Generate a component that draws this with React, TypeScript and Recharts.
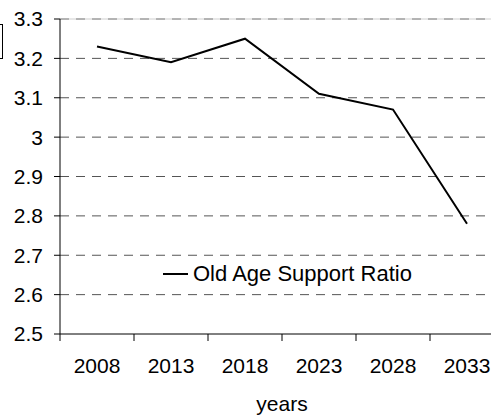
import React from 'react';
import { LineChart, Line, XAxis, YAxis, ReferenceLine, Legend } from 'recharts';

// Old age support ratio, five-year steps
const years = ['2008', '2013', '2018', '2023', '2028', '2033'];
const supportRatio = [3.23, 3.19, 3.25, 3.11, 3.07, 2.78];
const yTicks = [2.5, 2.6, 2.7, 2.8, 2.9, 3, 3.1, 3.2, 3.3];
const gridLevels = [2.6, 2.7, 2.8, 2.9, 3, 3.1, 3.2];
const topLevel = 3.3;

const data = years.map((year, i) => ({ year, ratio: supportRatio[i] }));

const FONT = '"Liberation Sans", Arial, Helvetica, sans-serif';
const FONT_SIZE = 21;
const LEGEND_FONT_SIZE = 22;
const CHART_W = 520;
const CHART_H = 415;
const MARGIN = { top: 19, right: 16, bottom: 0, left: 0 };
const Y_AXIS_W = 60;
const X_AXIS_H = 81;
const X_TICK_SIZE = 7;
const X_TICK_MARGIN = 2;
const BAND = (CHART_W - MARGIN.left - MARGIN.right - Y_AXIS_W) / years.length;

// category label centred in its band, tick marks on the band edges
function YearTick(props: any) {
  const { x, y, payload, index } = props;
  const axisY = y - X_TICK_SIZE - X_TICK_MARGIN;
  const left = x - BAND / 2;
  const right = x + BAND / 2;
  return (
    <g>
      <line x1={left} y1={axisY} x2={left} y2={axisY + X_TICK_SIZE} stroke="#000" />
      {index === years.length - 1 && (
        <line x1={right} y1={axisY} x2={right} y2={axisY + X_TICK_SIZE} stroke="#000" />
      )}
      <text x={x} y={axisY + 32} dy="0.355em" textAnchor="middle" fontSize={FONT_SIZE} fill="#000">
        {payload.value}
      </text>
    </g>
  );
}

function SeriesLegend() {
  return (
    <div style={{ display: 'flex', alignItems: 'center', fontSize: LEGEND_FONT_SIZE, color: '#000', whiteSpace: 'nowrap' }}>
      <svg width={30} height={4}>
        <line x1={0} y1={2} x2={25} y2={2} stroke="#000" strokeWidth={2} />
      </svg>
      <span>Old Age Support Ratio</span>
    </div>
  );
}

export default function App() {
  return (
    <div
      style={{
        position: 'fixed',
        left: 0,
        top: 0,
        width: 491,
        height: 415,
        overflow: 'hidden',
        background: '#fff',
        fontFamily: FONT,
      }}
    >
      <div
        style={{
          position: 'absolute',
          left: -40,
          top: 24,
          width: 41,
          height: 33,
          border: '1px solid #000',
        }}
      />
      <LineChart width={CHART_W} height={CHART_H} data={data} margin={MARGIN}>
        <XAxis
          dataKey="year"
          scale="band"
          height={X_AXIS_H}
          interval={0}
          axisLine={{ stroke: '#000' }}
          tickLine={false}
          tickSize={X_TICK_SIZE}
          tickMargin={X_TICK_MARGIN}
          tick={<YearTick />}
          label={{ value: 'years', position: 'insideBottom', offset: 4, fontSize: FONT_SIZE, fill: '#000' }}
        />
        <YAxis
          type="number"
          domain={[2.5, 3.3]}
          ticks={yTicks}
          interval={0}
          width={Y_AXIS_W}
          axisLine={{ stroke: '#000' }}
          tickLine={{ stroke: '#000' }}
          tickSize={6}
          tickMargin={11}
          tick={{ fontSize: FONT_SIZE, fill: '#000' }}
        />
        {gridLevels.map((v) => (
          <ReferenceLine key={v} y={v} stroke="#555" strokeDasharray="9 7" />
        ))}
        <ReferenceLine y={topLevel} stroke="#cfcfcf" />
        <ReferenceLine y={topLevel} stroke="#808080" strokeDasharray="9 7" />
        <Legend
          layout="horizontal"
          verticalAlign="middle"
          align="center"
          content={<SeriesLegend />}
          wrapperStyle={{ left: 163, top: 261, width: 'auto' }}
        />
        <Line
          type="linear"
          dataKey="ratio"
          stroke="#000"
          strokeWidth={2}
          dot={false}
          isAnimationActive={false}
        />
      </LineChart>
    </div>
  );
}
